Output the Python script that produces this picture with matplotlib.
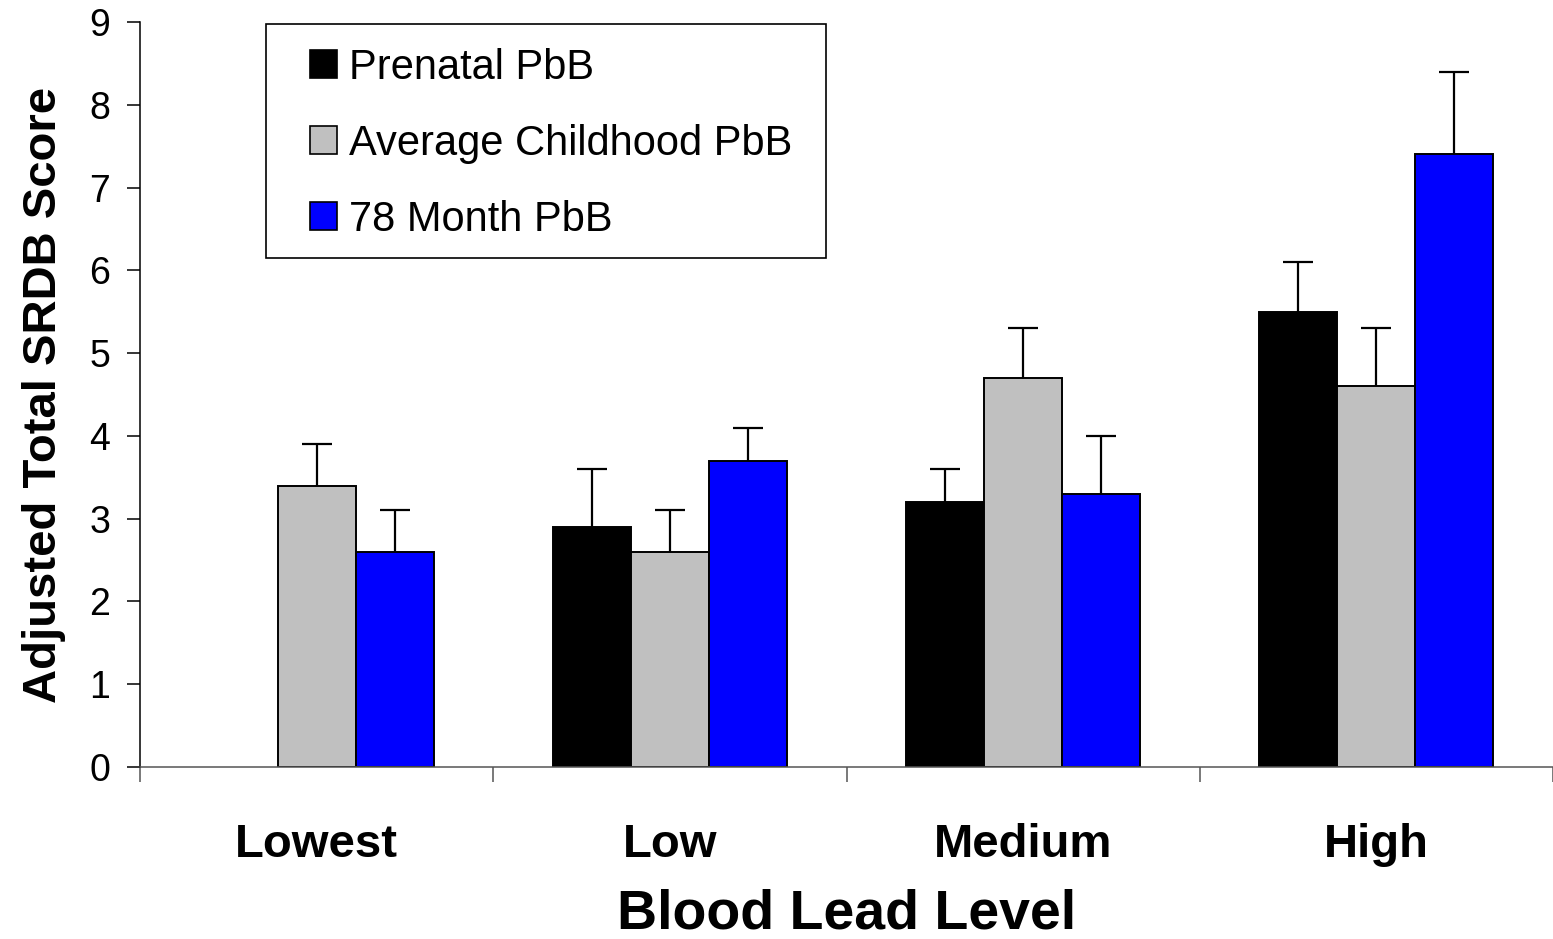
import matplotlib
matplotlib.use("Agg")
import matplotlib.pyplot as plt
import numpy as np
from matplotlib.patches import Rectangle, Patch

plt.rcParams['font.family'] = ['Liberation Sans', 'DejaVu Sans']

# data
categories = ["Lowest", "Low", "Medium", "High"]
series_names = ["Prenatal PbB", "Average Childhood PbB", "78 Month PbB"]
prenatal = [np.nan, 2.9, 3.2, 5.5]
prenatal_err = [np.nan, 0.7, 0.4, 0.6]
childhood = [3.4, 2.6, 4.7, 4.6]
childhood_err = [0.5, 0.5, 0.6, 0.7]
month78 = [2.6, 3.7, 3.3, 7.4]
month78_err = [0.5, 0.4, 0.7, 1.0]
colors = ["#000000", "#C0C0C0", "#0000FF"]

W, H = 1553, 939
fig = plt.figure(figsize=(W / 100, H / 100), dpi=100)
ax = fig.add_axes([140 / W, 1 - 767 / H, (W - 140) / W, (767 - 22) / H])

x = np.arange(len(categories)) + 0.5
width = 0.221
values = [prenatal, childhood, month78]
errors = [prenatal_err, childhood_err, month78_err]

for i, (vals, errs, col) in enumerate(zip(values, errors, colors)):
    pos = x + (i - 1) * width
    ax.bar(pos, vals, width, color=col, edgecolor="black", linewidth=1.4, zorder=2)
    errs = np.array(errs, dtype=float)
    eb = ax.errorbar(pos, vals, yerr=[np.zeros_like(errs), errs], fmt="none",
                     ecolor="black", elinewidth=1.6, capsize=11, capthick=1.6, zorder=3)
    eb[1][0].set_visible(False)

ax.set_xlim(0, 4)
ax.set_ylim(0, 9)
ax.set_yticks(range(0, 10))
ax.tick_params(axis="y", labelsize=27, length=9.4, width=1.1, pad=12, direction="out")

ax.set_xticks(range(0, 5))
ax.set_xticklabels([])
ax.tick_params(axis="x", which="major", length=10.8, width=1.1, color="#555555", direction="out")
ax.set_xticks(x, minor=True)
ax.set_xticklabels(categories, minor=True, fontsize=34, fontweight="bold")
ax.tick_params(axis="x", which="minor", length=0, pad=40)

for s in ["top", "right"]:
    ax.spines[s].set_visible(False)
ax.spines["left"].set_linewidth(1.1)
ax.spines["bottom"].set_linewidth(1.1)
ax.spines["bottom"].set_color("#555555")

ax.set_ylabel("Adjusted Total SRDB Score", fontsize=34, fontweight="bold", labelpad=17)
ax.set_xlabel("Blood Lead Level", fontsize=40, fontweight="bold", labelpad=16)

handles = [Patch(facecolor=c, edgecolor="black", linewidth=1.2) for c in colors]
fig.legend(handles, series_names, loc="upper left",
           bbox_to_anchor=(310 / W, 1 - 48 / H), frameon=False, fontsize=30,
           borderpad=0, borderaxespad=0, handlelength=0.65, handleheight=0.65,
           handletextpad=0.29, labelspacing=0.86)
fig.patches.append(Rectangle((266 / W, 1 - 258 / H), (826 - 266) / W, (258 - 24) / H,
                             transform=fig.transFigure, fill=False,
                             edgecolor="black", linewidth=1.2))

fig.savefig("out.png", dpi=100)
